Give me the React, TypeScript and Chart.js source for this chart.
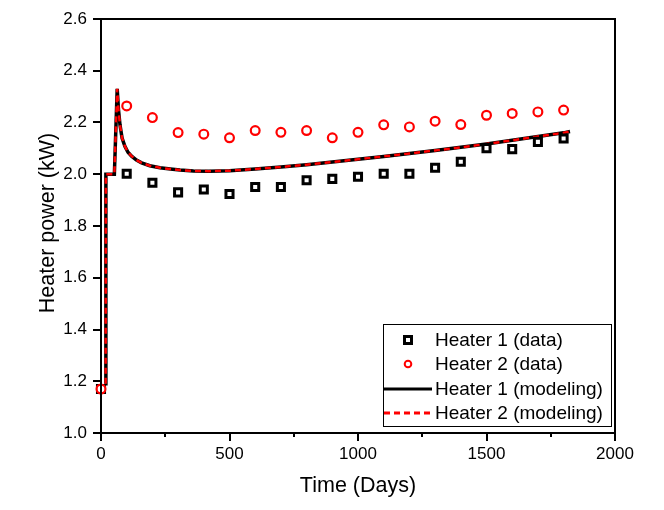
import React, { useEffect, useRef } from "react";
import { Chart, registerables } from "chart.js";
Chart.register(...registerables);

const dataDays = [0, 100, 200, 300, 400, 500, 600, 700, 800, 900, 1000, 1100, 1200, 1300, 1400, 1500, 1600, 1700, 1800];
const heater1Data = [1.17, 2.002, 1.967, 1.93, 1.941, 1.924, 1.951, 1.951, 1.977, 1.982, 1.99, 2.002, 2.002, 2.025, 2.048, 2.101, 2.097, 2.125, 2.138];
const heater2Data = [1.17, 2.264, 2.219, 2.161, 2.155, 2.141, 2.169, 2.162, 2.169, 2.141, 2.162, 2.191, 2.183, 2.205, 2.192, 2.228, 2.235, 2.241, 2.248];

const modelDays = [18, 19, 52, 63, 68, 74, 82, 93, 105, 119, 138, 158, 190, 229, 270, 307, 360, 420, 500, 600, 700, 800, 900, 1000, 1100, 1200, 1300, 1400, 1500, 1600, 1700, 1800, 1825];
const heater1Model = [1.19, 2.0, 2.0, 2.33, 2.25, 2.19, 2.14, 2.108, 2.085, 2.07, 2.055, 2.044, 2.033, 2.025, 2.02, 2.016, 2.013, 2.012, 2.014, 2.02, 2.028, 2.037, 2.047, 2.058, 2.069, 2.08, 2.092, 2.104, 2.117, 2.131, 2.146, 2.16, 2.165];
const heater2Model = [1.19, 2.0, 2.0, 2.33, 2.25, 2.19, 2.14, 2.108, 2.085, 2.07, 2.055, 2.044, 2.033, 2.025, 2.02, 2.016, 2.013, 2.012, 2.014, 2.02, 2.028, 2.037, 2.047, 2.058, 2.069, 2.08, 2.092, 2.104, 2.117, 2.131, 2.146, 2.16, 2.165];

const xTicksMinor = [250, 750, 1250, 1750];
const legendLabels = ["Heater 1 (data)", "Heater 2 (data)", "Heater 1 (modeling)", "Heater 2 (modeling)"];
const xTitle = "Time (Days)";
const yTitle = "Heater power (kW)";

const FONT = "'Liberation Sans', Arial, sans-serif";

export default function App() {
  const ref = useRef<HTMLCanvasElement>(null);
  useEffect(() => {
    if (!ref.current) return;
    const pts = (xs: number[], ys: number[]) => xs.map((x, i) => ({ x, y: ys[i] }));

    const decor = {
      id: "decor",
      afterDraw(chart: any) {
        const { ctx, chartArea: a, scales } = chart;
        const xs = scales.x;
        ctx.save();
        // frame
        ctx.strokeStyle = "#000";
        ctx.lineWidth = 2;
        ctx.strokeRect(a.left, a.top, a.right - a.left, a.bottom - a.top);
        // minor ticks on x
        for (const v of xTicksMinor) {
          const px = Math.round(xs.getPixelForValue(v));
          ctx.beginPath();
          ctx.moveTo(px, a.bottom);
          ctx.lineTo(px, a.bottom + 4);
          ctx.stroke();
        }
        // titles
        ctx.fillStyle = "#000";
        ctx.font = `21.5px ${FONT}`;
        ctx.textAlign = "center";
        ctx.textBaseline = "alphabetic";
        ctx.fillText(xTitle, (a.left + a.right) / 2, 492);
        ctx.save();
        ctx.translate(54, (a.top + a.bottom) / 2 - 3);
        ctx.rotate(-Math.PI / 2);
        ctx.fillText(yTitle, 0, 0);
        ctx.restore();
        // legend
        const lx = 383, ly = 324, lw = 228, lh = 102;
        ctx.lineWidth = 1;
        ctx.strokeStyle = "#000";
        ctx.strokeRect(lx + 0.5, ly + 0.5, lw, lh);
        const rows = [340, 364, 389, 413];
        ctx.font = `19px ${FONT}`;
        ctx.textAlign = "left";
        ctx.textBaseline = "middle";
        legendLabels.forEach((t, i) => ctx.fillText(t, 435, rows[i] + 1));
        // marker 1: square
        ctx.strokeStyle = "#000";
        ctx.fillStyle = "#fff";
        ctx.lineWidth = 3;
        ctx.beginPath();
        ctx.rect(408 - 3.5, rows[0] - 3.5, 7, 7);
        ctx.fill();
        ctx.stroke();
        // marker 2: circle
        ctx.strokeStyle = "#ff0000";
        ctx.lineWidth = 2;
        ctx.beginPath();
        ctx.arc(408, rows[1], 3.3, 0, Math.PI * 2);
        ctx.fill();
        ctx.stroke();
        // line 1
        ctx.strokeStyle = "#000";
        ctx.lineWidth = 3;
        ctx.beginPath();
        ctx.moveTo(384, rows[2]);
        ctx.lineTo(432, rows[2]);
        ctx.stroke();
        // line 2
        ctx.strokeStyle = "#ff0000";
        ctx.setLineDash([6, 4]);
        ctx.beginPath();
        ctx.moveTo(384, rows[3]);
        ctx.lineTo(432, rows[3]);
        ctx.stroke();
        ctx.setLineDash([]);
        ctx.restore();
      },
    };

    const chart = new Chart(ref.current, {
      type: "scatter",
      data: {
        datasets: [
          {
            label: legendLabels[1],
            data: pts(dataDays, heater2Data),
            showLine: false,
            pointStyle: "circle",
            pointRadius: 4.4,
            pointBorderWidth: 2.2,
            borderColor: "#ff0000",
            backgroundColor: "#ffffff",
            clip: false,
            order: 1,
          },
          {
            label: legendLabels[0],
            data: pts(dataDays, heater1Data),
            showLine: false,
            pointStyle: "rect",
            pointRadius: 5,
            pointBorderWidth: 3,
            borderColor: "#000000",
            backgroundColor: "#ffffff",
            clip: false,
            order: 2,
          },
          {
            label: legendLabels[3],
            data: pts(modelDays, heater2Model),
            showLine: true,
            pointRadius: 0,
            borderColor: "#ff0000",
            borderWidth: 2.5,
            borderDash: [6, 4],
            tension: 0,
            order: 3,
          },
          {
            label: legendLabels[2],
            data: pts(modelDays, heater1Model),
            showLine: true,
            pointRadius: 0,
            borderColor: "#000000",
            borderWidth: 3.5,
            tension: 0,
            order: 4,
          },
        ],
      },
      options: {
        animation: false,
        responsive: false,
        devicePixelRatio: 1,
        layout: { padding: { left: 0, top: 19, right: 49, bottom: 0 } },
        plugins: { legend: { display: false }, tooltip: { enabled: false } },
        scales: {
          x: {
            type: "linear",
            min: 0,
            max: 2000,
            border: { display: true, color: "#000", width: 2 },
            grid: { display: true, drawOnChartArea: false, drawTicks: true, tickLength: 8, lineWidth: 2, color: "#000" },
            ticks: {
              stepSize: 500,
              color: "#000",
              font: { family: FONT, size: 17 },
              padding: 3,
              maxRotation: 0,
              callback: (v: any) => String(Math.round(Number(v))),
            },
            afterFit: (s: any) => { s.height = 77; },
          },
          y: {
            type: "linear",
            min: 1.0,
            max: 2.6,
            border: { display: true, color: "#000", width: 2 },
            grid: { display: true, drawOnChartArea: false, drawTicks: true, tickLength: 8, lineWidth: 2, color: "#000" },
            ticks: {
              stepSize: 0.2,
              color: "#000",
              font: { family: FONT, size: 17 },
              padding: 6,
              callback: (v: any) => Number(v).toFixed(1),
            },
            afterFit: (s: any) => { s.width = 101; },
          },
        },
      },
      plugins: [decor],
    });
    return () => chart.destroy();
  }, []);

  return (
    <div style={{ position: "fixed", left: 0, top: 0, width: 664, height: 510, background: "#fff" }}>
      <canvas ref={ref} width={664} height={510} style={{ width: 664, height: 510, display: "block" }} />
    </div>
  );
}
